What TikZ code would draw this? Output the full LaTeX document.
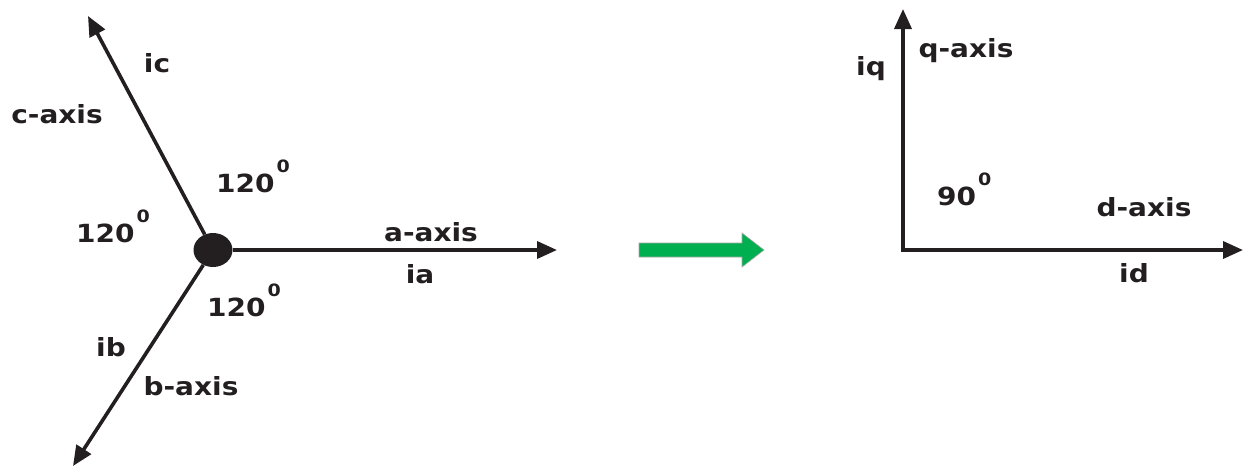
\documentclass[tikz,border=0pt]{standalone}
\usepackage{fontspec}
\setmainfont{DejaVu Sans}[FakeStretch=1.12]
\usetikzlibrary{arrows.meta,shapes.geometric}
\definecolor{axisink}{HTML}{231F20}
\definecolor{convgreen}{HTML}{00B050}
\newcommand{\supzero}[1]{\kern2pt\raisebox{#1}{\fontsize{17}{17}\selectfont 0}}
\tikzset{
  axisline/.style={draw=axisink, line width=3.6pt, -{Triangle[length=20pt,width=17pt]}},
  lbl/.style={inner sep=0pt, anchor=base, text=axisink, font=\fontsize{25}{25}\selectfont\bfseries},
  anglbl/.style={lbl, anchor=base west},
}
\begin{document}
\begin{tikzpicture}[x=1pt,y=-1pt]
  \useasboundingbox (0,0) rectangle (1243,466);

  % three-phase (abc) axes
  \node[ellipse, fill=axisink, inner sep=0pt, minimum width=39pt, minimum height=34pt] (hub) at (213,250) {};
  \coordinate (atip) at (557,250);
  \coordinate (btip) at (73,466);
  \coordinate (ctip) at (88,16);
  \draw[axisline] (hub) -- (atip);
  \draw[axisline] (hub) -- (btip);
  \draw[axisline] (hub) -- (ctip);

  \node[lbl] (ic) at (157,72) {ic};
  \node[lbl] (caxis) at (57,123) {c-axis};
  \node[lbl] (aaxis) at (431,241) {a-axis};
  \node[lbl] (ia) at (420,283) {ia};
  \node[lbl] (ib) at (111,356) {ib};
  \node[lbl] (baxis) at (191,395) {b-axis};
  \node[anglbl] (angca) at (216,192) {120\supzero{20pt}};
  \node[anglbl] (angbc) at (76,242) {120\supzero{20pt}};
  \node[anglbl] (angab) at (207,316) {120\supzero{20pt}};

  % transformation arrow
  \fill[convgreen, draw=black!35, line width=0.6pt]
    (639,243) -- (742,243) -- (742,233) -- (764,250) -- (742,267) -- (742,257) -- (639,257) -- cycle;

  % two-axis (dq) frame
  \coordinate (dqo) at (903,250);
  \coordinate (qtip) at (903,9);
  \coordinate (dtip) at (1243,250);
  \draw[axisline] ([yshift=-1.8pt]dqo) -- (qtip);
  \draw[axisline] ([xshift=-1.8pt]dqo) -- (dtip);

  \node[lbl] (iq) at (871,75) {iq};
  \node[lbl] (qaxis) at (966,57) {q-axis};
  \node[anglbl] (angdq) at (937,205) {90\supzero{20pt}};
  \node[lbl] (daxis) at (1144,216) {d-axis};
  \node[lbl] (id) at (1134,282) {id};
\end{tikzpicture}
\end{document}
